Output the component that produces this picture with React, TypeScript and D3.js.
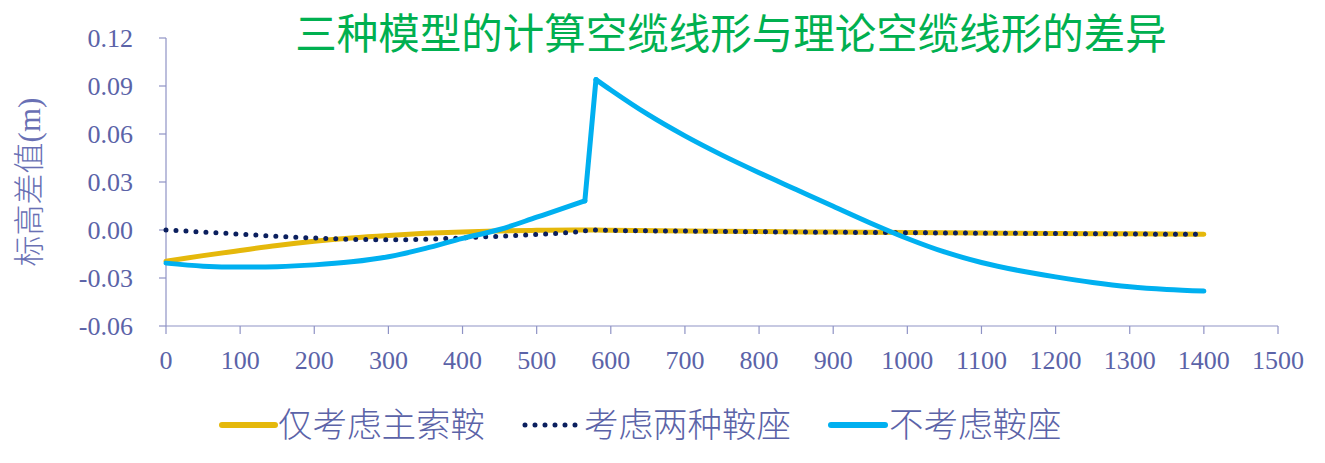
import React from "react";
import * as d3 from "d3";

const titleText = "三种模型的计算空缆线形与理论空缆线形的差异";
const yAxisTitle = "标高差值(m)";
const seriesNames = ["仅考虑主索鞍", "考虑两种鞍座", "不考虑鞍座"];

const xTicks = [0, 100, 200, 300, 400, 500, 600, 700, 800, 900, 1000, 1100, 1200, 1300, 1400, 1500];
const yTicks = [-0.06, -0.03, 0.0, 0.03, 0.06, 0.09, 0.12];

// 仅考虑主索鞍
const mainSaddleX = [0, 50, 100, 150, 200, 250, 300, 350, 400, 450, 500, 550, 580, 600, 700, 800, 900, 1000, 1100, 1200, 1300, 1400];
const mainSaddleY = [-0.0195, -0.016, -0.0128, -0.0097, -0.0071, -0.005, -0.0034, -0.0021, -0.0012, -0.0006, -0.0002, 0.0, 0.0, -0.0002, -0.0006, -0.001, -0.0013, -0.0016, -0.0019, -0.0022, -0.0024, -0.0026];

// 考虑两种鞍座
const bothSaddleX = [0, 50, 100, 150, 200, 250, 300, 350, 400, 450, 500, 550, 580, 600, 700, 800, 900, 1000, 1100, 1200, 1300, 1400];
const bothSaddleY = [0.0, -0.0013, -0.0026, -0.0039, -0.005, -0.0058, -0.0061, -0.0058, -0.0049, -0.0039, -0.0028, -0.0014, 0.0, -0.0003, -0.0007, -0.0011, -0.0014, -0.0017, -0.002, -0.0022, -0.0025, -0.0027];

// 不考虑鞍座 — rising part, jump, falling part
const noSaddleRiseX = [0, 50, 100, 150, 200, 250, 300, 350, 400, 450, 500, 550, 565];
const noSaddleRiseY = [-0.0207, -0.0226, -0.0232, -0.0229, -0.0218, -0.0199, -0.0167, -0.0115, -0.0052, 0.0003, 0.008, 0.0158, 0.0182];
const noSaddleFallX = [580, 600, 650, 700, 750, 800, 850, 900, 950, 1000, 1050, 1100, 1150, 1200, 1250, 1300, 1350, 1400];
const noSaddleFallY = [0.094, 0.0875, 0.0722, 0.0588, 0.0468, 0.0358, 0.0253, 0.0148, 0.0044, -0.0053, -0.0137, -0.0203, -0.0253, -0.0293, -0.0328, -0.0355, -0.0372, -0.0382];

const W = 1325;
const H = 463;
const left = 166;
const right = 1278;
const top = 38;
const bottom = 326;

const axisColor = "#8F93C5";
const labelColor = "#5B63A8";
const yellow = "#E5B80B";
const navy = "#0B1F5E";
const blue = "#00B0F0";

export default function App() {
  const x = d3.scaleLinear().domain([0, 1500]).range([left, right]);
  const y = d3.scaleLinear().domain([-0.06, 0.12]).range([bottom, top]);
  const smooth = d3
    .line<[number, number]>()
    .x((d) => x(d[0]))
    .y((d) => y(d[1]))
    .curve(d3.curveMonotoneX);
  const straight = d3
    .line<[number, number]>()
    .x((d) => x(d[0]))
    .y((d) => y(d[1]))
    .curve(d3.curveLinear);

  const mk = (xs: number[], ys: number[]) => xs.map((v, i) => [v, ys[i]] as [number, number]);

  const rise = mk(noSaddleRiseX, noSaddleRiseY);
  const fall = mk(noSaddleFallX, noSaddleFallY);
  const jump: [number, number][] = [rise[rise.length - 1], fall[0]];

  const serif = "'Liberation Serif', 'Times New Roman', serif";
  const cjk = "'Noto Sans CJK SC', sans-serif";

  const legendItems = [
    { name: seriesNames[0], x1: 222, x2: 275, tx: 278, color: yellow, dotted: false },
    { name: seriesNames[1], x1: 525, x2: 580, tx: 584, color: navy, dotted: true },
    { name: seriesNames[2], x1: 831, x2: 885, tx: 889, color: blue, dotted: false },
  ];

  return (
    <svg width={W} height={H} style={{ position: "absolute", left: 0, top: 0, background: "#fff" }}>
      <rect x={0} y={0} width={W} height={H} fill="#fff" />
      <text x={731} y={49} textAnchor="middle" fill="#00B050" fontFamily={cjk} fontSize={41.5} fontWeight={400}>
        {titleText}
      </text>

      {/* axes */}
      <line x1={left} x2={left} y1={top} y2={bottom} stroke={axisColor} strokeWidth={1.2} />
      <line x1={left} x2={right} y1={bottom} y2={bottom} stroke={axisColor} strokeWidth={1.2} />
      {yTicks.map((t) => (
        <g key={"y" + t}>
          <line x1={left - 7} x2={left} y1={y(t)} y2={y(t)} stroke={axisColor} strokeWidth={1.2} />
          <text x={133} y={y(t)} dy="0.34em" textAnchor="end" fill={labelColor} fontFamily={serif} fontSize={26}>
            {t.toFixed(2)}
          </text>
        </g>
      ))}
      {xTicks.map((t) => (
        <g key={"x" + t}>
          <line x1={x(t)} x2={x(t)} y1={bottom} y2={bottom + 8} stroke={axisColor} strokeWidth={1.2} />
          <text x={x(t)} y={369} textAnchor="middle" fill={labelColor} fontFamily={serif} fontSize={26}>
            {t}
          </text>
        </g>
      ))}

      <text
        transform={`translate(40,182) rotate(-90)`}
        textAnchor="middle"
        fill="#6970B4"
        fontFamily={`'Liberation Serif', 'Noto Sans CJK SC', serif`}
        fontSize={31}
        fontWeight={300}
      >
        {yAxisTitle}
      </text>

      {/* series */}
      <path d={smooth(mk(mainSaddleX, mainSaddleY)) || ""} fill="none" stroke={yellow} strokeWidth={5} strokeLinejoin="round" strokeLinecap="round" />
      <path
        d={smooth(mk(bothSaddleX, bothSaddleY)) || ""}
        fill="none"
        stroke={navy}
        strokeWidth={5}
        strokeDasharray="0 10"
        strokeLinecap="round"
      />
      <path d={smooth(rise) || ""} fill="none" stroke={blue} strokeWidth={5} strokeLinejoin="round" strokeLinecap="round" />
      <path d={straight(jump) || ""} fill="none" stroke={blue} strokeWidth={5} strokeLinejoin="round" strokeLinecap="round" />
      <path d={smooth(fall) || ""} fill="none" stroke={blue} strokeWidth={5} strokeLinejoin="round" strokeLinecap="round" />

      {/* legend */}
      {legendItems.map((it) => (
        <g key={it.name}>
          <line
            x1={it.x1}
            x2={it.x2}
            y1={425}
            y2={425}
            stroke={it.color}
            strokeWidth={it.dotted ? 5 : 6}
            strokeLinecap="round"
            strokeDasharray={it.dotted ? "0 10" : undefined}
          />
          <text x={it.tx} y={437} fill={labelColor} fontFamily={cjk} fontSize={34.5} fontWeight={300}>
            {it.name}
          </text>
        </g>
      ))}
    </svg>
  );
}
